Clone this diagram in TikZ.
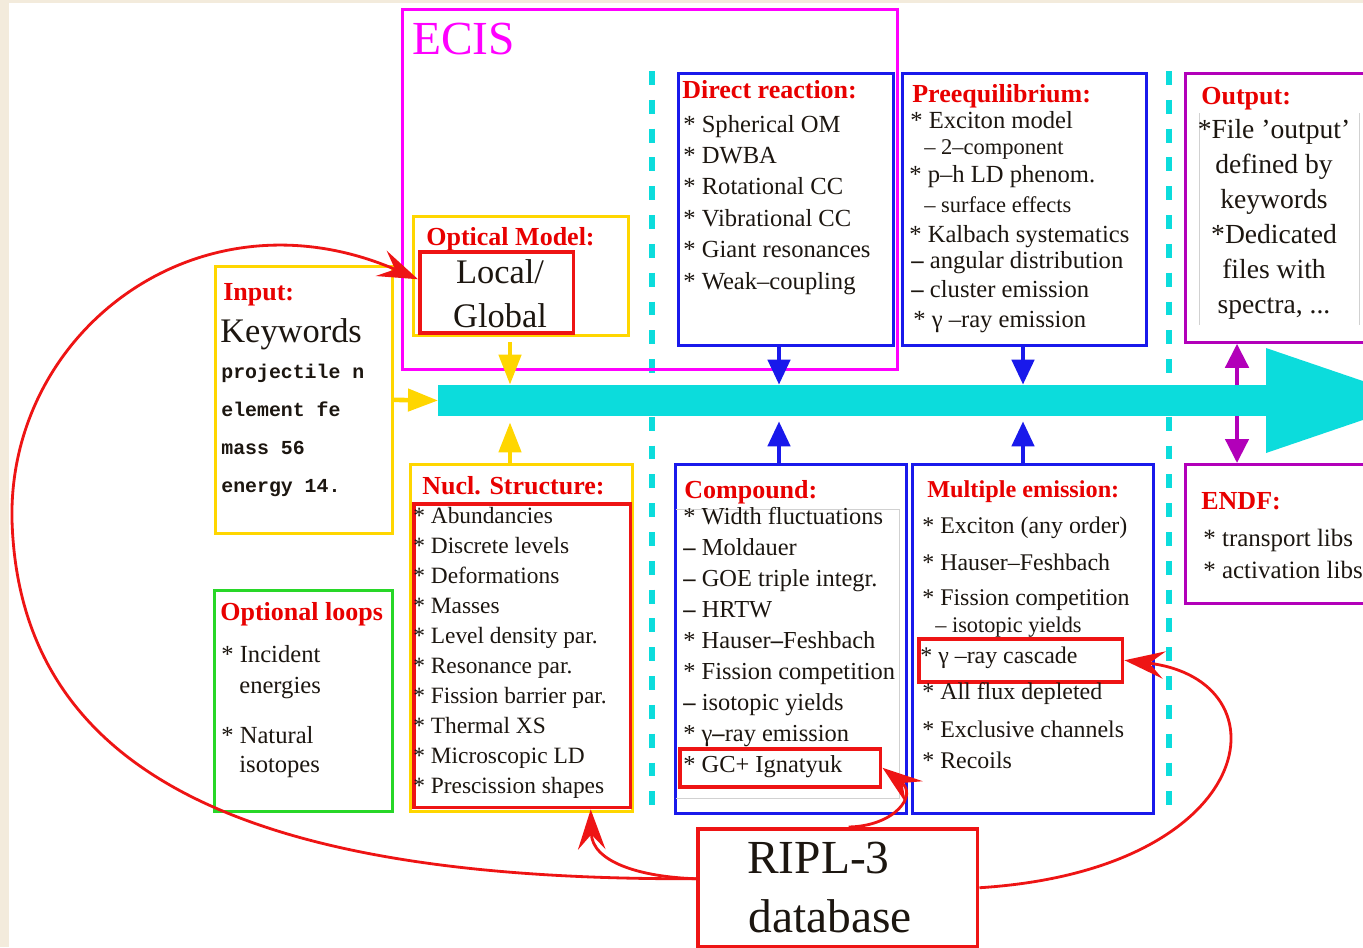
\documentclass[tikz,border=0pt]{standalone}
\usepackage{fontspec}
\setmainfont{Liberation Serif}
\setmonofont{Liberation Mono}
\usetikzlibrary{arrows.meta}

\definecolor{paper}{RGB}{243,235,220}
\definecolor{ecismag}{RGB}{255,0,255}
\definecolor{gold}{RGB}{255,214,0}
\definecolor{boxred}{RGB}{238,20,20}
\definecolor{hdred}{RGB}{232,0,0}
\definecolor{boxblue}{RGB}{25,25,235}
\definecolor{outpurple}{RGB}{178,0,185}
\definecolor{loopgreen}{RGB}{40,215,40}
\definecolor{flowc}{RGB}{12,220,220}
\definecolor{ink}{RGB}{28,22,16}

\tikzset{
  frame/.style={draw, line width=1.6pt, inner sep=0pt, anchor=north west},
  ttl/.style={font=\fontsize{14.8}{17}\selectfont\bfseries, text=hdred, anchor=base west, inner sep=0pt},
  itm/.style={font=\fontsize{14}{17}\selectfont, text=ink, anchor=base west, inner sep=0pt},
  small/.style={font=\fontsize{12.8}{15}\selectfont, text=ink, anchor=base west, inner sep=0pt},
  big/.style={font=\fontsize{19.6}{22}\selectfont, text=ink, inner sep=0pt},
  huge/.style={font=\fontsize{27}{30}\selectfont, inner sep=0pt, anchor=base west},
  kw/.style={font=\fontsize{11.3}{13}\selectfont\ttfamily\bfseries, text=ink, anchor=base west, inner sep=0pt},
  separator/.style={draw=flowc, line width=3.4pt, dash pattern=on 7.9pt off 8.5pt},
  faint/.style={draw=black!18, line width=0.4pt},
  feedy/.style={draw=gold, line width=2.6pt, -{Triangle[length=0.6cm,width=0.44cm]}},
  feedb/.style={draw=boxblue, line width=2.6pt, -{Triangle[length=0.5cm,width=0.44cm]}},
  feedp/.style={draw=outpurple, line width=2.6pt, -{Triangle[length=0.48cm,width=0.46cm]}},
  ripllink/.style={draw=boxred, line width=1.6pt, -{Stealth[length=0.8cm,width=0.55cm,inset=0.3cm]}}
}

\begin{document}
\begin{tikzpicture}[x=0.02cm, y=-0.02cm]
    % page
    \useasboundingbox (0,0) rectangle (1363,947);
    \fill[paper] (0,0) rectangle (1363,947);
    \fill[white] (9,3) rectangle (1363,947);
    \clip (0,0) rectangle (1363,947);

    % Stage separators
    \draw[separator] (652,71) -- (652,812);
    \draw[separator] (1169,71) -- (1169,812);

    % ECIS and optical model
    \node[frame, draw=ecismag, minimum width=9.9cm, minimum height=7.2cm] (ecis) at (401,8) {};
    \node[huge, text=ecismag] (ecist) at (412,54) {ECIS};
    \node[frame, draw=gold, minimum width=4.3cm, minimum height=2.38cm] (optical) at (412,215) {};
    \node[ttl] (opticalt) at (426,245) {Optical Model:};
    \node[frame, draw=boxred, line width=2pt, minimum width=3.08cm, minimum height=1.62cm] (local) at (418,250) {};
    \node[big, anchor=base] (localt) at (500,283) {Local/};
    \node[big, anchor=base] (globalt) at (500,327) {Global};

    % Input
    \node[frame, draw=gold, minimum width=3.54cm, minimum height=5.34cm] (input) at (214,265) {};
    \node[ttl] (inputt) at (223,300) {Input:};
    \node[big, anchor=base west] (keywords) at (220,342) {Keywords};
    \node[kw] (kw1) at (221,378) {projectile n};
    \node[kw] (kw2) at (221,416) {element fe};
    \node[kw] (kw3) at (221,454) {mass 56};
    \node[kw] (kw4) at (221,492) {energy 14.};

    % Optional loops
    \node[frame, draw=loopgreen, minimum width=3.56cm, minimum height=4.42cm] (loops) at (213,589) {};
    \node[ttl] (loopst) at (220,620) {Optional loops};
    \node[itm] (loop1) at (221,662) {* Incident};
    \node[itm] (loop2) at (239,693) {energies};
    \node[itm] (loop3) at (221,743) {* Natural};
    \node[itm] (loop4) at (239,772) {isotopes};

    % Nuclear structure
    \node[frame, draw=gold, minimum width=4.44cm, minimum height=6.94cm] (nucly) at (409,463) {};
    \node[frame, draw=boxred, line width=2pt, minimum width=4.34cm, minimum height=6.08cm] (nuclred) at (412,502) {};
    \node[ttl] (nuclt) at (422,494) {Nucl. Structure:};
    \foreach \txt [count=\i from 0] in {Abundancies, Discrete levels, Deformations, Masses,
        Level density par., Resonance par., Fission barrier par., Thermal XS,
        Microscopic LD, Prescission shapes}
        \node[itm, font=\fontsize{13.3}{16}\selectfont] (nucl\i) at (413,{523+30.1*\i}) {* \txt};

    % Direct reaction
    \node[frame, draw=boxblue, minimum width=4.3cm, minimum height=5.44cm] (direct) at (677,72) {};
    \node[ttl] (directt) at (682,98) {Direct reaction:};
    \foreach \txt [count=\i from 0] in {Spherical OM, DWBA, Rotational CC, Vibrational CC,
        Giant resonances, Weak--coupling}
        \node[itm] (direct\i) at (683,{132+31.4*\i}) {* \txt};

    % Preequilibrium
    \node[frame, draw=boxblue, minimum width=4.88cm, minimum height=5.44cm] (preeq) at (901,72) {};
    \node[ttl] (preeqt) at (912,102) {Preequilibrium:};
    \node[itm] (preeq1) at (910,128) {* Exciton model};
    \node[small] (preeq2) at (924,154) {-- 2--component};
    \node[itm] (preeq3) at (909,182) {* p--h LD phenom.};
    \node[small] (preeq4) at (924,212) {-- surface effects};
    \node[itm] (preeq5) at (909,242) {* Kalbach systematics};
    \node[itm] (preeq6) at (911,268) {\textbf{--} angular distribution};
    \node[itm] (preeq7) at (911,297) {\textbf{--} cluster emission};
    \node[itm] (preeq8) at (913,327) {* γ --ray emission};

    % Output and ENDF
    \node[frame, draw=outpurple, minimum width=3.82cm, minimum height=5.38cm] (output) at (1184,72) {};
    \draw[faint] (1199,113) -- (1199,325);
    \draw[faint] (1359,113) -- (1359,325);
    \node[ttl] (outputt) at (1201,104) {Output:};
    \foreach \txt [count=\i from 0] in {*File 'output', defined by, keywords, *Dedicated,
        files with, {spectra, .{}.{}.}}
        \node[itm, font=\fontsize{15.7}{18}\selectfont, anchor=base] (output\i) at (1274,{138+35*\i}) {\txt};
    \node[frame, draw=outpurple, minimum width=3.82cm, minimum height=2.78cm] (endf) at (1184,463) {};
    \node[ttl] (endft) at (1201,509) {ENDF:};
    \node[itm, font=\fontsize{14.2}{17}\selectfont] (endf1) at (1203,546) {* transport libs};
    \node[itm, font=\fontsize{14.2}{17}\selectfont] (endf2) at (1203,578) {* activation libs};

    % Compound
    \node[frame, draw=boxblue, minimum width=4.62cm, minimum height=6.98cm] (compound) at (674,463) {};
    \draw[faint] (676,509) -- (899,509) -- (899,798) -- (676,798);
    \node[ttl] (compoundt) at (684,498) {Compound:};
    \node[frame, draw=boxred, line width=2pt, minimum width=4.02cm, minimum height=0.76cm] (gc) at (678,747) {};
    \foreach \txt [count=\i from 0] in {* Width fluctuations, \textbf{--} Moldauer,
        \textbf{--} GOE triple integr., \textbf{--} HRTW, * Hauser\textbf{--}Feshbach,
        * Fission competition, \textbf{--} isotopic yields, * γ\textbf{--}ray emission,
        * GC+ Ignatyuk}
        \node[itm, font=\fontsize{13.9}{16}\selectfont] (compound\i) at (683,{524+31.1*\i}) {\txt};

    % Multiple emission
    \node[frame, draw=boxblue, minimum width=4.82cm, minimum height=6.98cm] (multiple) at (911,463) {};
    \node[ttl, font=\fontsize{13.8}{16}\selectfont\bfseries] (multiplet) at (927,497) {Multiple emission:};
    \node[frame, draw=boxred, line width=2pt, minimum width=4.08cm, minimum height=0.86cm] (gamma) at (917,637) {};
    \node[itm, font=\fontsize{13.6}{16}\selectfont] (multiple1) at (922,533) {* Exciton (any order)};
    \node[itm, font=\fontsize{13.6}{16}\selectfont] (multiple2) at (922,570) {* Hauser--Feshbach};
    \node[itm, font=\fontsize{13.6}{16}\selectfont] (multiple3) at (922,605) {* Fission competition};
    \node[small, font=\fontsize{12.7}{15}\selectfont] (multiple4) at (935,632) {-- isotopic yields};
    \node[itm, font=\fontsize{13.6}{16}\selectfont] (multiple5) at (920,663) {* γ --ray cascade};
    \node[itm, font=\fontsize{13.6}{16}\selectfont] (multiple6) at (922,699) {* All flux depleted};
    \node[itm, font=\fontsize{13.6}{16}\selectfont] (multiple7) at (922,737) {* Exclusive channels};
    \node[itm, font=\fontsize{13.6}{16}\selectfont] (multiple8) at (922,768) {* Recoils};

    % RIPL-3
    \node[frame, draw=boxred, line width=2pt, minimum width=5.6cm, minimum height=2.36cm] (ripl) at (696,827) {};
    \node[huge, text=ink] (riplt) at (747,873) {RIPL-3};
    \node[huge, text=ink] (database) at (748,932) {database};

    % Main flow arrow
    \node[fill=flowc, minimum width=16.6cm, minimum height=0.62cm, inner sep=0pt, anchor=west] (flow) at (438,400.5) {};
    \fill[flowc] (1266,348) -- (1420,400.5) -- (1266,453) -- cycle;

    % Feeds into the flow
    \coordinate (ax1) at (510,0);
    \coordinate (ax2) at (779,0);
    \coordinate (ax3) at (1023,0);
    \coordinate (ax4) at (1237,0);
    \draw[feedy] (input.east) -- (flow.west);
    \draw[feedy, shorten <=0.1cm] (optical.south -| ax1) -- (flow.north -| ax1);
    \draw[feedy, shorten >=0.12cm] (nucly.north -| ax1) -- (flow.south -| ax1);
    \draw[feedb] (direct.south -| ax2) -- (flow.north -| ax2);
    \draw[feedb] (preeq.south -| ax3) -- (flow.north -| ax3);
    \draw[feedb, shorten >=0.1cm] (compound.north -| ax2) -- (flow.south -| ax2);
    \draw[feedb, shorten >=0.1cm] (multiple.north -| ax3) -- (flow.south -| ax3);
    \draw[feedp] (flow.north -| ax4) -- (output.south -| ax4);
    \draw[feedp] (flow.south -| ax4) -- (endf.north -| ax4);

    % RIPL-3 links
    \draw[ripllink] ([yshift=0.18cm]ripl.west) .. controls (300,880) and (20,800) .. (12,520)
        .. controls (8,330) and (200,185) .. ([yshift=0.26cm]local.west);
    \draw[ripllink] ([yshift=0.18cm]ripl.west) .. controls (640,877) and (592,862) .. ([xshift=1.37cm]nuclred.south);
    \draw[ripllink] ([xshift=0.22cm]ripl.north) .. controls (895,826) and (918,795) .. (gc.east);
    \draw[ripllink] (ripl.east) .. controls (1260,870) and (1290,680) .. (gamma.east);
\end{tikzpicture}
\end{document}
